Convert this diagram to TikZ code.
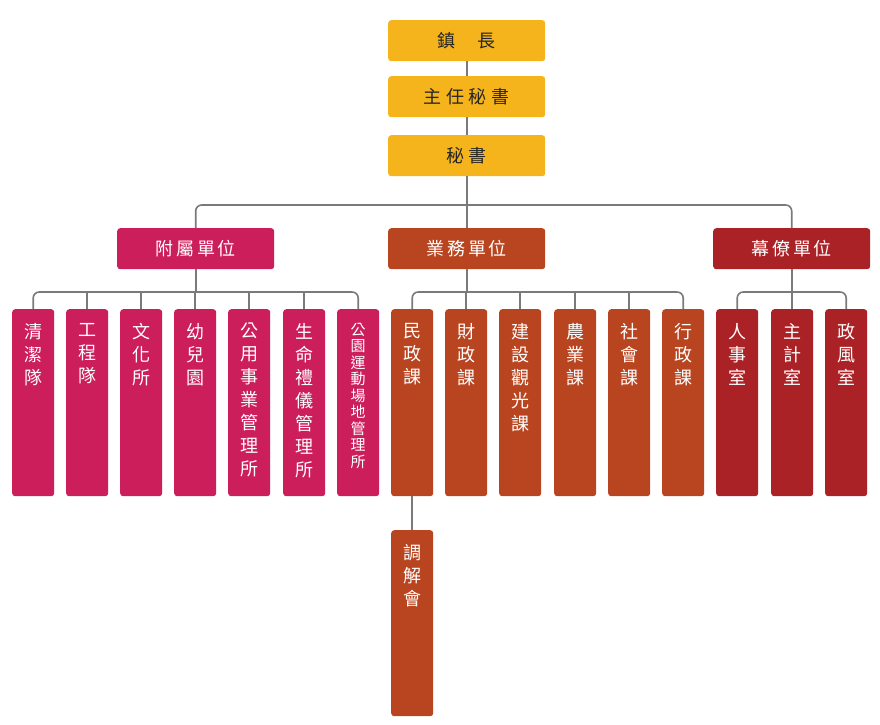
\documentclass[tikz,border=0pt]{standalone}
\usepackage{fontspec}
\setmainfont{Noto Sans CJK TC}
\begin{document}
\begin{tikzpicture}[x=1pt,y=-1pt,
  box/.style={draw=none,rounded corners=3pt,inner sep=0pt,anchor=north west},
  top/.style={box,fill=gold,minimum width=157pt,minimum height=41pt,font=\fontsize{18}{20}\selectfont,text=black!85},
  mid/.style={box,minimum width=157pt,minimum height=41pt,font=\fontsize{18}{20}\selectfont,text=white},
  col/.style={box,minimum width=42pt,minimum height=187pt},
  vt/.style={anchor=north,align=center,text=white,font=\fontsize{18}{23}\selectfont,inner sep=0pt},
  vts/.style={vt,font=\fontsize{15}{16.5}\selectfont},
  ln/.style={draw=lineg,line width=1.6pt,rounded corners=6pt}]
\definecolor{gold}{HTML}{F5B41B}
\definecolor{pinkc}{HTML}{CC1E5A}
\definecolor{orc}{HTML}{B94520}
\definecolor{drc}{HTML}{AA2226}
\definecolor{lineg}{HTML}{7A7A7A}
\useasboundingbox (0,0) rectangle (880,724);
% lines first
\node[top] (zz) at (388,20) {鎮\hspace{1.2em}長};
\node[top] (zr) at (388,76) {主\hspace{0.25em}任\hspace{0.25em}秘\hspace{0.25em}書};
\node[top] (ms) at (388,135) {秘\hspace{0.25em}書};
\node[mid,fill=pinkc] (fs) at (117,228) {附\hspace{0.15em}屬\hspace{0.15em}單\hspace{0.15em}位};
\node[mid,fill=orc] (yw) at (388,228) {業\hspace{0.15em}務\hspace{0.15em}單\hspace{0.15em}位};
\node[mid,fill=drc] (ml) at (713,228) {幕\hspace{0.15em}僚\hspace{0.15em}單\hspace{0.15em}位};
% left group
\foreach \n/\x in {a1/12,a2/66,a3/120,a4/174,a5/228,a6/283,a7/337}
  \node[col,fill=pinkc] (\n) at (\x,309) {};
\foreach \n/\x in {b1/391,b2/445,b3/499,b4/554,b5/608,b6/662}
  \node[col,fill=orc] (\n) at (\x,309) {};
\foreach \n/\x in {c1/716,c2/771,c3/825}
  \node[col,fill=drc] (\n) at (\x,309) {};
\node[col,fill=orc,minimum height=186pt] (tj) at (391,530) {};
% texts
\node[vt] (ta1) at ([yshift=-14]a1.north) {清\\潔\\隊};
\node[vt] (ta2) at ([yshift=-14]a2.north) {工\\程\\隊};
\node[vt] (ta3) at ([yshift=-14]a3.north) {文\\化\\所};
\node[vt] (ta4) at ([yshift=-14]a4.north) {幼\\兒\\園};
\node[vt] (ta5) at ([yshift=-14]a5.north) {公\\用\\事\\業\\管\\理\\所};
\node[vt] (ta6) at ([yshift=-14]a6.north) {生\\命\\禮\\儀\\管\\理\\所};
\node[vts] (ta7) at ([yshift=-14]a7.north) {公\\園\\運\\動\\場\\地\\管\\理\\所};
\node[vt] (tb1) at ([yshift=-14]b1.north) {民\\政\\課};
\node[vt] (tb2) at ([yshift=-14]b2.north) {財\\政\\課};
\node[vt] (tb3) at ([yshift=-14]b3.north) {建\\設\\觀\\光\\課};
\node[vt] (tb4) at ([yshift=-14]b4.north) {農\\業\\課};
\node[vt] (tb5) at ([yshift=-14]b5.north) {社\\會\\課};
\node[vt] (tb6) at ([yshift=-14]b6.north) {行\\政\\課};
\node[vt] (tc1) at ([yshift=-14]c1.north) {人\\事\\室};
\node[vt] (tc2) at ([yshift=-14]c2.north) {主\\計\\室};
\node[vt] (tc3) at ([yshift=-14]c3.north) {政\\風\\室};
\node[vt] (ttj) at ([yshift=-14]tj.north) {調\\解\\會};
% connectors
\draw[ln] (zz.south) -- (zr.north);
\draw[ln] (zr.south) -- (ms.north);
\draw[ln] (ms.south) -- (yw.north);
\draw[ln] (fs.north) -- ++(0,-23) -| (ml.north);
\foreach \p/\f/\l in {fs/a1/a7,yw/b1/b6,ml/c1/c3}{
  \draw[ln] (\f.north) -- ++(0,-17) -| (\l.north);
  \draw[ln] (\p.south) -- (\p.south |- 0,292);
}
\foreach \n in {a2,a3,a4,a5,a6,b2,b3,b4,b5,c2}
  \draw[ln] (\n.north) -- ++(0,-17);
\draw[ln] (b1.south) -- (tj.north);
\end{tikzpicture}
\end{document}
